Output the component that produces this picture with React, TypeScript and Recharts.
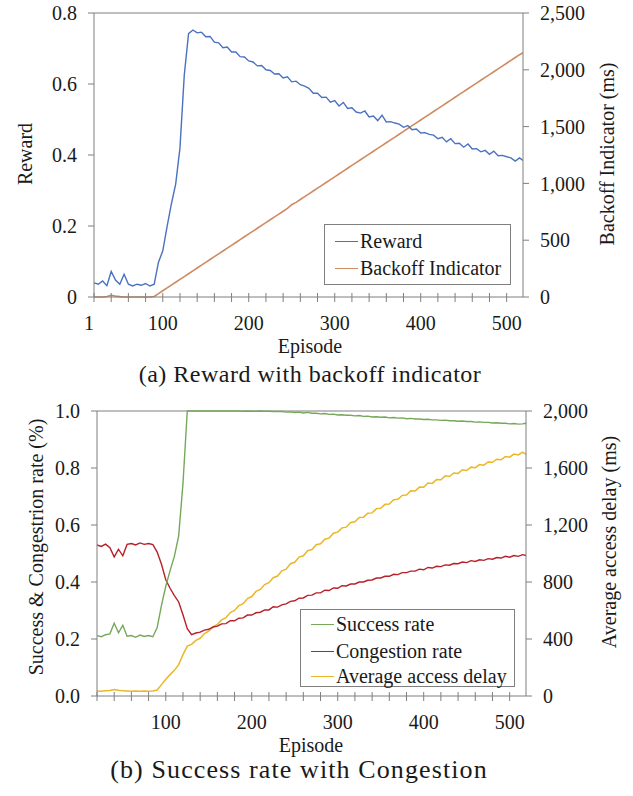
import React from "react";
import { LineChart, Line, XAxis, YAxis, ReferenceLine } from "recharts";

// episode grid shared by every series (both panels)
const EPISODES = [
  20, 25, 30, 35, 40, 45, 50, 55, 60, 65,
  70, 75, 80, 85, 90, 95, 100, 105, 110, 115,
  120, 125, 130, 135, 140, 145, 150, 155, 160, 165,
  170, 175, 180, 185, 190, 195, 200, 205, 210, 215,
  220, 225, 230, 235, 240, 245, 250, 255, 260, 265,
  270, 275, 280, 285, 290, 295, 300, 305, 310, 315,
  320, 325, 330, 335, 340, 345, 350, 355, 360, 365,
  370, 375, 380, 385, 390, 395, 400, 405, 410, 415,
  420, 425, 430, 435, 440, 445, 450, 455, 460, 465,
  470, 475, 480, 485, 490, 495, 500, 505, 510, 515,
  519,
];

// (a) reward with backoff indicator
const REWARD = [
  0.040, 0.036, 0.045, 0.032, 0.072, 0.048, 0.036, 0.064, 0.036, 0.031,
  0.036, 0.033, 0.038, 0.031, 0.036, 0.098, 0.130, 0.198, 0.262, 0.318,
  0.420, 0.625, 0.742, 0.752, 0.744, 0.746, 0.733, 0.734, 0.718, 0.716,
  0.702, 0.704, 0.690, 0.690, 0.677, 0.676, 0.665, 0.662, 0.651, 0.652,
  0.640, 0.638, 0.628, 0.629, 0.617, 0.620, 0.606, 0.608, 0.598, 0.594,
  0.588, 0.574, 0.574, 0.562, 0.563, 0.549, 0.553, 0.538, 0.548, 0.531,
  0.533, 0.521, 0.518, 0.524, 0.507, 0.510, 0.497, 0.512, 0.493, 0.494,
  0.490, 0.487, 0.478, 0.483, 0.471, 0.473, 0.462, 0.463, 0.458, 0.456,
  0.446, 0.450, 0.437, 0.446, 0.432, 0.433, 0.422, 0.431, 0.417, 0.418,
  0.409, 0.413, 0.402, 0.411, 0.398, 0.399, 0.395, 0.392, 0.383, 0.392,
  0.385,
];

const BACKOFF = [
  0, 0, 0, 5, 15, 8, 3, 0, 0, 0,
  0, 0, 0, 0, 5, 30, 55, 80, 105, 130,
  155, 180, 205, 230, 255, 280, 305, 330, 355, 380,
  405, 430, 455, 480, 505, 530, 555, 580, 605, 630,
  655, 680, 705, 730, 755, 780, 812, 833, 858, 883,
  908, 933, 958, 983, 1008, 1033, 1058, 1083, 1108, 1133,
  1158, 1183, 1208, 1233, 1258, 1283, 1308, 1333, 1358, 1383,
  1408, 1433, 1458, 1483, 1508, 1533, 1558, 1583, 1608, 1633,
  1658, 1683, 1708, 1733, 1758, 1783, 1808, 1833, 1858, 1883,
  1908, 1933, 1958, 1983, 2008, 2033, 2058, 2083, 2108, 2133,
  2150,
];

// (b) success / congestion rate with average access delay
const SUCCESS = [
  0.212, 0.208, 0.215, 0.218, 0.255, 0.222, 0.248, 0.210, 0.212, 0.206,
  0.214, 0.209, 0.212, 0.208, 0.240, 0.318, 0.385, 0.440, 0.490, 0.562,
  0.745, 1.0, 1.0, 1.0, 1.0, 1.0, 1.0, 1.0, 1.0, 1.0,
  1.0, 1.0, 1.0, 1.0, 0.999, 1.0, 0.999, 0.999, 1.0, 0.999,
  0.999, 0.998, 0.998, 0.998, 0.996, 0.997, 0.995, 0.996, 0.993, 0.995,
  0.992, 0.992, 0.990, 0.991, 0.988, 0.989, 0.986, 0.987, 0.985, 0.985,
  0.983, 0.984, 0.981, 0.982, 0.979, 0.980, 0.978, 0.979, 0.976, 0.977,
  0.975, 0.976, 0.973, 0.974, 0.972, 0.972, 0.970, 0.971, 0.969, 0.969,
  0.967, 0.968, 0.966, 0.966, 0.964, 0.965, 0.963, 0.963, 0.961, 0.962,
  0.960, 0.960, 0.958, 0.959, 0.957, 0.957, 0.955, 0.956, 0.954, 0.955,
  0.957,
];

const CONGESTION = [
  0.530, 0.525, 0.533, 0.520, 0.488, 0.515, 0.492, 0.532, 0.535, 0.530,
  0.537, 0.532, 0.535, 0.531, 0.505, 0.462, 0.408, 0.378, 0.352, 0.330,
  0.285, 0.236, 0.215, 0.221, 0.224, 0.231, 0.234, 0.242, 0.245, 0.253,
  0.254, 0.264, 0.264, 0.273, 0.274, 0.284, 0.284, 0.292, 0.294, 0.302,
  0.302, 0.313, 0.312, 0.320, 0.323, 0.332, 0.334, 0.343, 0.344, 0.353,
  0.354, 0.362, 0.362, 0.371, 0.370, 0.379, 0.378, 0.387, 0.386, 0.393,
  0.393, 0.400, 0.400, 0.406, 0.407, 0.414, 0.414, 0.420, 0.420, 0.427,
  0.426, 0.433, 0.433, 0.438, 0.438, 0.445, 0.443, 0.451, 0.449, 0.455,
  0.454, 0.460, 0.459, 0.465, 0.464, 0.470, 0.468, 0.475, 0.472, 0.478,
  0.476, 0.482, 0.480, 0.486, 0.484, 0.490, 0.487, 0.493, 0.490, 0.496,
  0.493,
];

const DELAY = [
  35, 34, 36, 38, 46, 40, 36, 35, 34, 35,
  34, 35, 34, 35, 42, 80, 118, 150, 180, 220,
  290, 350, 362, 390, 405, 438, 455, 486, 502, 534,
  550, 586, 600, 634, 648, 684, 698, 734, 748, 782,
  795, 830, 842, 878, 890, 928, 938, 975, 984, 1020,
  1028, 1062, 1068, 1100, 1108, 1142, 1150, 1180, 1185, 1218,
  1222, 1252, 1255, 1282, 1285, 1315, 1318, 1345, 1348, 1378,
  1380, 1408, 1410, 1440, 1438, 1466, 1465, 1495, 1492, 1520,
  1518, 1545, 1540, 1565, 1562, 1588, 1582, 1606, 1602, 1624,
  1620, 1642, 1640, 1662, 1658, 1680, 1676, 1698, 1692, 1712,
  1695,
];

const X_TICKS = [20, 40, 60, 80, 100, 120, 140, 160, 180, 200, 220, 240, 260, 280, 300, 320, 340, 360, 380, 400, 420, 440, 460, 480, 500];
const TOP_X_LABELS: Record<number, string> = { 20: "1", 100: "100", 200: "200", 300: "300", 400: "400", 500: "500" };
const BOTTOM_X_LABELS: Record<number, string> = { 100: "100", 200: "200", 300: "300", 400: "400", 500: "500" };
const REWARD_TICKS = [0, 0.2, 0.4, 0.6, 0.8];
const BACKOFF_TICKS = [0, 500, 1000, 1500, 2000, 2500];
const RATE_TICKS = [0, 0.2, 0.4, 0.6, 0.8, 1.0];
const DELAY_TICKS = [0, 400, 800, 1200, 1600, 2000];

const FONT = "'Liberation Serif', 'Times New Roman', serif";
const TEXT = "#1a1a1a";
const AXIS = "#7f7f7f";
const C_REWARD = "#4a72c0";
const C_BACKOFF = "#d08a60";
const C_SUCCESS = "#76a85a";
const C_CONGESTION = "#b8202a";
const C_DELAY = "#eab726";

const topData = EPISODES.map((ep, i) => ({ ep, reward: REWARD[i], backoff: BACKOFF[i] }));
const bottomData = EPISODES.map((ep, i) => ({
  ep,
  success: SUCCESS[i],
  congestion: CONGESTION[i],
  delay: DELAY[i],
}));

const tickStyle = { fontSize: 20, fill: TEXT, fontFamily: FONT };
const withComma = (v: number) => v.toLocaleString("en-US");

function EpisodeTick(props: any) {
  const { x, y, payload, labels } = props;
  const label = labels[payload.value];
  return (
    <g>
      <line x1={x} x2={x} y1={y - 4} y2={y + 5} stroke={AXIS} />
      {label && (
        <text x={label === "1" ? x - 5 : x} y={y + 33} textAnchor="middle" fontSize={20} fill={TEXT} fontFamily={FONT}>
          {label}
        </text>
      )}
    </g>
  );
}

function LegendBox({ items, style }: { items: { name: string; color: string; top: number }[]; style: React.CSSProperties }) {
  return (
    <div style={{ position: "absolute", border: `1px solid ${AXIS}`, background: "#fff", boxSizing: "border-box", ...style }}>
      {items.map((it) => (
        <div
          key={it.name}
          style={{ position: "absolute", left: 10, top: it.top - 13, height: 26, display: "flex", alignItems: "center", whiteSpace: "nowrap" }}
        >
          <span style={{ display: "inline-block", width: 23, height: 0, borderTop: `1.5px solid ${it.color}`, marginRight: 2 }} />
          <span style={{ fontSize: 20, color: TEXT, fontFamily: FONT }}>{it.name}</span>
        </div>
      ))}
    </div>
  );
}

export default function App() {
  return (
    <div style={{ position: "absolute", left: 0, top: 0, width: 633, height: 796, background: "#fff", fontFamily: FONT }}>
      <div style={{ position: "absolute", left: 0, top: 0 }}>
        <LineChart width={633} height={370} data={topData} margin={{ top: 13, right: 0, bottom: 43, left: 0 }}>
          <XAxis
            dataKey="ep"
            type="number"
            domain={[20, 519]}
            ticks={X_TICKS}
            interval={0}
            allowDataOverflow
            height={30}
            tickSize={0}
            tickMargin={0}
            tickLine={false}
            axisLine={{ stroke: AXIS }}
            tick={(p: any) => <EpisodeTick {...p} labels={TOP_X_LABELS} />}
          />
          <YAxis
            yAxisId="left"
            width={94}
            domain={[0, 0.8]}
            ticks={REWARD_TICKS}
            interval={0}
            tickSize={6}
            tickMargin={11}
            tick={tickStyle}
            tickFormatter={(v: number) => (v === 0 ? "0" : v.toFixed(1))}
            axisLine={{ stroke: AXIS }}
            tickLine={{ stroke: AXIS }}
          />
          <YAxis
            yAxisId="right"
            orientation="right"
            width={110}
            domain={[0, 2500]}
            ticks={BACKOFF_TICKS}
            interval={0}
            tickSize={6}
            tickMargin={11}
            tick={{ ...tickStyle, textAnchor: "start" }}
            tickFormatter={withComma}
            axisLine={{ stroke: AXIS }}
            tickLine={{ stroke: AXIS }}
          />
          <ReferenceLine yAxisId="left" y={0.8} stroke={AXIS} />
          <Line yAxisId="right" dataKey="backoff" stroke={C_BACKOFF} strokeWidth={1.6} dot={false} isAnimationActive={false} />
          <Line yAxisId="left" dataKey="reward" stroke={C_REWARD} strokeWidth={1.4} dot={false} isAnimationActive={false} />
        </LineChart>
      </div>

      <div style={{ position: "absolute", left: 0, top: 390 }}>
        <LineChart width={633} height={406} data={bottomData} margin={{ top: 21, right: 0, bottom: 70, left: 0 }}>
          <XAxis
            dataKey="ep"
            type="number"
            domain={[20, 519]}
            ticks={X_TICKS}
            interval={0}
            allowDataOverflow
            height={30}
            tickSize={0}
            tickMargin={0}
            tickLine={false}
            axisLine={{ stroke: AXIS }}
            tick={(p: any) => <EpisodeTick {...p} labels={BOTTOM_X_LABELS} />}
          />
          <YAxis
            yAxisId="left"
            width={97}
            domain={[0, 1]}
            ticks={RATE_TICKS}
            interval={0}
            tickSize={6}
            tickMargin={11}
            tick={tickStyle}
            tickFormatter={(v: number) => v.toFixed(1)}
            axisLine={{ stroke: AXIS }}
            tickLine={{ stroke: AXIS }}
          />
          <YAxis
            yAxisId="right"
            orientation="right"
            width={107}
            domain={[0, 2000]}
            ticks={DELAY_TICKS}
            interval={0}
            tickSize={6}
            tickMargin={11}
            tick={{ ...tickStyle, textAnchor: "start" }}
            tickFormatter={withComma}
            axisLine={{ stroke: AXIS }}
            tickLine={{ stroke: AXIS }}
          />
          <ReferenceLine yAxisId="left" y={1} stroke={AXIS} />
          <Line yAxisId="right" dataKey="delay" stroke={C_DELAY} strokeWidth={1.5} dot={false} isAnimationActive={false} />
          <Line yAxisId="left" dataKey="congestion" stroke={C_CONGESTION} strokeWidth={1.4} dot={false} isAnimationActive={false} />
          <Line yAxisId="left" dataKey="success" stroke={C_SUCCESS} strokeWidth={1.4} dot={false} isAnimationActive={false} />
        </LineChart>
      </div>

      <LegendBox
        style={{ left: 324, top: 224, width: 187, height: 61 }}
        items={[
          { name: "Reward", color: C_REWARD, top: 16 },
          { name: "Backoff Indicator", color: C_BACKOFF, top: 43 },
        ]}
      />
      <LegendBox
        style={{ left: 300, top: 609, width: 215, height: 78 }}
        items={[
          { name: "Success rate", color: C_SUCCESS, top: 14 },
          { name: "Congestion rate", color: C_CONGESTION, top: 41 },
          { name: "Average access delay", color: C_DELAY, top: 66 },
        ]}
      />

      <svg width={633} height={796} style={{ position: "absolute", left: 0, top: 0, pointerEvents: "none" }}>
        <g fontFamily={FONT} fill={TEXT} fontSize={20}>
          <text x={24.5} y={154} transform="rotate(-90 24.5 154)" textAnchor="middle" dominantBaseline="central">
            Reward
          </text>
          <text x={607} y={154} transform="rotate(-90 607 154)" textAnchor="middle" dominantBaseline="central">
            Backoff Indicator (ms)
          </text>
          <text x={310} y={353} textAnchor="middle">
            Episode
          </text>
          <text x={310} y={382} textAnchor="middle" fontSize={24} letterSpacing={0.5}>
            (a) Reward with backoff indicator
          </text>
          <text x={36} y={547} transform="rotate(-90 36 547)" textAnchor="middle" dominantBaseline="central">
            Success &amp; Congestrion rate (%)
          </text>
          <text x={609} y={542} transform="rotate(-90 609 542)" textAnchor="middle" dominantBaseline="central">
            Average access delay (ms)
          </text>
          <text x={311} y={752} textAnchor="middle">
            Episode
          </text>
          <text x={299} y={778} textAnchor="middle" fontSize={26} letterSpacing={1.1}>
            (b) Success rate with Congestion
          </text>
        </g>
      </svg>
    </div>
  );
}
